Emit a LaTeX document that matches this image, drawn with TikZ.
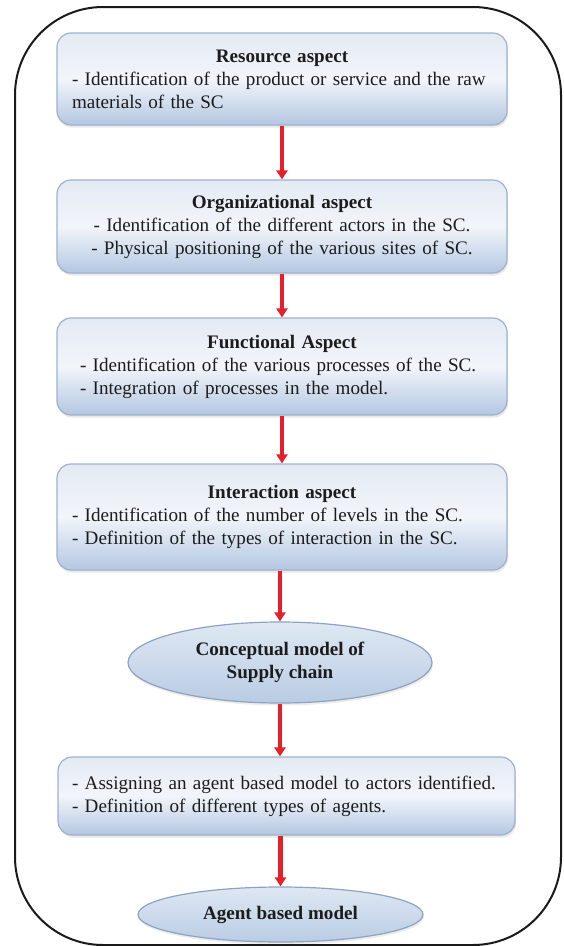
\documentclass[tikz,border=0pt]{standalone}
\usepackage{fontspec}
\setmainfont{Liberation Serif}
\usetikzlibrary{arrows.meta,shadows,shapes.geometric}
\definecolor{boxtop}{HTML}{E4EAF4}
\definecolor{boxmid}{HTML}{F2F5FA}
\definecolor{boxbot}{HTML}{B3C7E1}
\definecolor{boxline}{HTML}{9EB2CC}
\definecolor{elltop}{HTML}{DFE8F3}
\definecolor{ellbot}{HTML}{B9CCE4}
\definecolor{ellline}{HTML}{8DA3C0}
\definecolor{arrowred}{HTML}{E5202A}
\definecolor{txt}{HTML}{1C1C1C}
\definecolor{framecol}{HTML}{1A1A1A}
\newcommand{\diafont}{\fontsize{19.1pt}{23pt}\selectfont}
\begin{document}
\begin{tikzpicture}[x=1pt,y=-1pt,
  stepbox/.style={rounded corners=14pt, draw=boxline, line width=1.2pt,
    top color=boxtop, bottom color=boxbot, middle color=boxmid,
    inner ysep=0pt, font=\diafont, text=txt,
    drop shadow={opacity=0.18, shadow xshift=1pt, shadow yshift=-2.5pt}},
  ellbox/.style={ellipse, draw=ellline, line width=1.2pt,
    top color=elltop, bottom color=ellbot, inner sep=0pt,
    font=\diafont\bfseries, text=txt, align=center,
    drop shadow={opacity=0.15, shadow xshift=1pt, shadow yshift=-2.5pt}},
  redarrow/.style={draw=arrowred, line width=4.4pt,
    -{Triangle[width=11pt,length=9pt]}},
  frame/.style={draw=framecol, line width=2pt, rounded corners=88pt}]
\useasboundingbox (0,0) rectangle (563,946);
\draw[frame] (15,7) rectangle (561,945);

\node[stepbox, minimum width=450pt, minimum height=92pt, text width=420pt,
  inner xsep=15pt, align=left] (b1) at (282,79)
  {\makebox[\hsize]{\textbf{Resource aspect}}\\
   \mbox{- Identification of the product or service and the raw}\\
   \mbox{materials of the SC}};

\node[stepbox, minimum width=450pt, minimum height=93pt, text width=420pt,
  inner xsep=15pt, align=center] (b2) at (282,226.5)
  {\textbf{Organizational aspect}\\
   \mbox{- Identification of the different actors in the SC.}\\
   \mbox{- Physical positioning of the various sites of SC.}};

\node[stepbox, minimum width=450pt, minimum height=97pt, text width=404pt,
  inner xsep=23pt, align=left] (b3) at (282,366.5)
  {\makebox[\hsize]{\textbf{Functional Aspect}}\\
   \mbox{- Identification of the various processes of the SC.}\\
   \mbox{- Integration of processes in the model.}};

\node[stepbox, minimum width=450pt, minimum height=106pt, text width=420pt,
  inner xsep=15pt, align=left] (b4) at (282,517)
  {\makebox[\hsize]{\textbf{Interaction aspect}}\\
   \mbox{- Identification of the number of levels in the SC.}\\
   \mbox{- Definition of the types of interaction in the SC.}};

\node[ellbox, minimum width=304pt, minimum height=81pt] (e1) at (280,662.5)
  {Conceptual model of\\Supply chain};

\node[stepbox, minimum width=457pt, minimum height=78pt, text width=429pt,
  inner xsep=14pt, align=left] (b5) at (286.5,796)
  {\mbox{- Assigning an agent based model to actors identified.}\\
   \mbox{- Definition of different types of agents.}};

\node[ellbox, minimum width=285pt, minimum height=55pt] (e2) at (280.5,914.5)
  {Agent based model};

\draw[redarrow] (b1) -- (b2);
\draw[redarrow] (b2) -- (b3);
\draw[redarrow] (b3) -- (b4);
\draw[redarrow] (b4.south -| e1.north) -- (e1.north);
\draw[redarrow] (e1.south) -- (e1.south |- b5.north);
\draw[redarrow] (e2.north |- b5.south) -- (e2.north);
\end{tikzpicture}
\end{document}
